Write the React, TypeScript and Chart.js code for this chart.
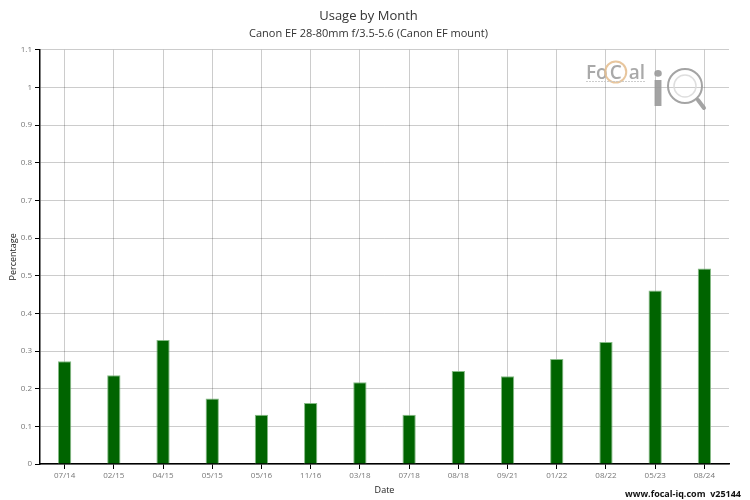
import React, { useEffect, useRef } from "react";
import { Chart, registerables } from "chart.js";

Chart.register(...registerables);

const categories = ["07/14", "02/15", "04/15", "05/15", "05/16", "11/16", "03/18", "07/18", "08/18", "09/21", "01/22", "08/22", "05/23", "08/24"];
const usage = [0.273, 0.236, 0.329, 0.174, 0.131, 0.162, 0.217, 0.131, 0.247, 0.233, 0.279, 0.324, 0.461, 0.519];
const titleText = "Usage by Month";
const subtitleText = "Canon EF 28-80mm f/3.5-5.6 (Canon EF mount)";
const footerText = "www.focal-iq.com  v25144";

const FONT = "'Open Sans', 'DejaVu Sans', sans-serif";

const decorPlugin = {
  id: "decor",
  afterDraw(chart: any) {
    const ctx = chart.ctx as CanvasRenderingContext2D;
    ctx.save();
    // footer
    ctx.font = `bold 9px ${FONT}`;
    ctx.fillStyle = "#111";
    ctx.textAlign = "right";
    ctx.textBaseline = "alphabetic";
    ctx.fillText(footerText, 741, 497);
    // logo
    ctx.globalAlpha = 0.9;
    ctx.font = `600 19px ${FONT}`;
    ctx.fillStyle = "#a0a0a0";
    ctx.textAlign = "left";
    const x0 = 586;
    ctx.fillText("Fo", x0, 79);
    const wFo = ctx.measureText("Fo").width;
    const wC = ctx.measureText("C").width;
    const cx = x0 + wFo + 2 + wC / 2;
    ctx.fillText("C", x0 + wFo + 2, 79);
    ctx.fillText("al", cx + 13, 79);
    const wal = ctx.measureText("al").width;
    ctx.strokeStyle = "#e6c092";
    ctx.lineWidth = 2;
    ctx.beginPath();
    ctx.arc(cx, 72, 10.5, 0, Math.PI * 2);
    ctx.stroke();
    ctx.strokeStyle = "#c8c8c8";
    ctx.lineWidth = 1;
    ctx.setLineDash([2, 1]);
    ctx.beginPath();
    ctx.moveTo(586, 81.5);
    ctx.lineTo(cx + 13 + wal, 81.5);
    ctx.stroke();
    ctx.setLineDash([]);
    ctx.fillStyle = "#999";
    ctx.font = `bold 46px ${FONT}`;
    ctx.fillText("i", 651, 106);
    ctx.strokeStyle = "#9a9a9a";
    ctx.lineWidth = 2;
    ctx.beginPath();
    ctx.arc(685, 86, 17, 0, Math.PI * 2);
    ctx.stroke();
    ctx.strokeStyle = "#dadada";
    ctx.lineWidth = 1.5;
    ctx.beginPath();
    ctx.arc(685, 86, 11, 0, Math.PI * 2);
    ctx.stroke();
    ctx.strokeStyle = "#9a9a9a";
    ctx.lineWidth = 4;
    ctx.lineCap = "round";
    ctx.beginPath();
    ctx.moveTo(698, 100);
    ctx.lineTo(704, 108);
    ctx.stroke();
    ctx.restore();
  },
};

export default function App() {
  const ref = useRef<HTMLCanvasElement>(null);
  useEffect(() => {
    document.body.style.margin = "0";
    const chart = new Chart(ref.current!, {
      type: "bar",
      data: {
        labels: categories,
        datasets: [
          {
            data: usage,
            backgroundColor: "#006400",
            borderColor: "rgba(120,180,120,0.9)",
            borderWidth: 1,
            barPercentage: 0.27,
            categoryPercentage: 1,
          },
        ],
      },
      options: {
        animation: false,
        responsive: false,
        maintainAspectRatio: false,
        layout: { padding: { left: 8, right: 21, top: 0, bottom: 4 } },
        plugins: {
          legend: { display: false },
          tooltip: { enabled: false },
          title: {
            display: true,
            text: titleText,
            color: "#333",
            font: { family: FONT, size: 13, weight: "normal" },
            padding: { top: 8, bottom: 3 },
          },
          subtitle: {
            display: true,
            text: subtitleText,
            color: "#333",
            font: { family: FONT, size: 11, weight: "normal" },
            padding: { top: 1, bottom: 9 },
          },
        },
        scales: {
          x: {
            grid: {
              offset: false,
              color: "rgba(0,0,0,0.2)",
              tickColor: "#000",
              tickLength: 5,
            },
            border: { color: "#000", width: 1.5 },
            ticks: { color: "#777", font: { family: FONT, size: 8 }, padding: 2, maxRotation: 0 },
            title: { display: true, text: "Date", color: "#222", font: { family: FONT, size: 9 }, padding: { top: 2, bottom: 0 } },
            afterFit(scale: any) {
              scale.height = 32;
            },
          },
          y: {
            min: 0,
            max: 1.1,
            ticks: {
              stepSize: 0.1,
              color: "#777",
              font: { family: FONT, size: 8 },
              padding: 3,
              callback: (v: any) => String(Math.round(Number(v) * 10) / 10),
            },
            grid: { color: "rgba(0,0,0,0.2)", tickColor: "#000", tickLength: 5 },
            border: { color: "#000", width: 1.5 },
            title: { display: true, text: "Percentage", color: "#222", font: { family: FONT, size: 9 }, padding: { top: 0, bottom: 4 } },
            afterFit(scale: any) {
              scale.width = 32;
            },
          },
        },
      },
      plugins: [decorPlugin],
    } as any);
    return () => chart.destroy();
  }, []);
  return <canvas ref={ref} width={750} height={500} style={{ display: "block" }} />;
}
